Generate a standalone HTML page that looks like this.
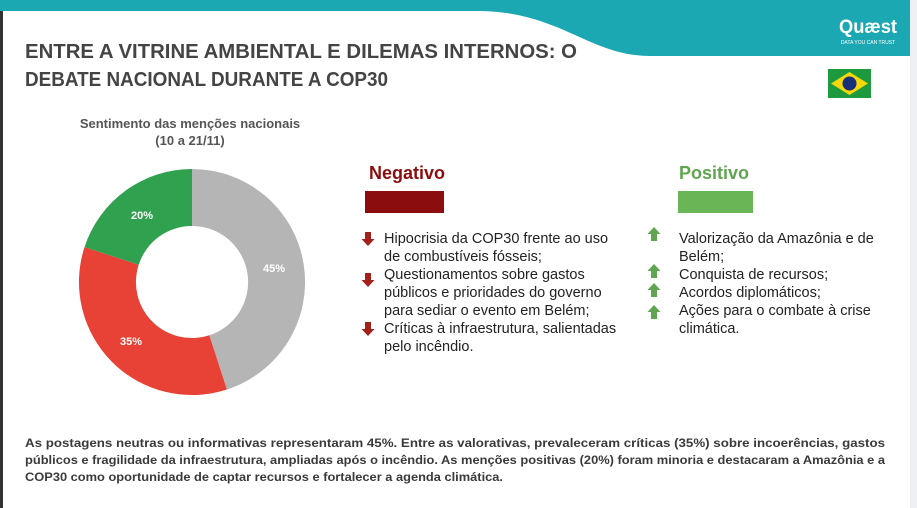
<!DOCTYPE html>
<html><head><meta charset="utf-8"><style>
html,body{margin:0;padding:0;background:#fff}
svg{display:block}
text{font-family:"Liberation Sans",Arial,sans-serif}
</style></head><body>
<svg width="917" height="508" viewBox="0 0 917 508" xmlns="http://www.w3.org/2000/svg">
<rect width="917" height="508" fill="#fff"/>
<rect x="0" y="0" width="3" height="508" fill="#333"/>
<rect x="910" y="0" width="7" height="508" fill="#eef0f3"/>
<path d="M0 0 H910 V56 H650 C590 56 560 12 480 11 H0 Z" fill="#1ba8b3"/>
<text x="868" y="33" font-size="19" font-weight="bold" fill="#fff" text-anchor="middle" textLength="58" lengthAdjust="spacingAndGlyphs">Quæst</text>
<text x="868" y="44" font-size="5" fill="#fff" text-anchor="middle">DATA YOU CAN TRUST</text>
<text x="25" y="58" font-size="20" font-weight="bold" fill="#444" textLength="552" lengthAdjust="spacingAndGlyphs">ENTRE A VITRINE AMBIENTAL E DILEMAS INTERNOS: O</text>
<text x="25" y="86" font-size="20" font-weight="bold" fill="#444" textLength="363" lengthAdjust="spacingAndGlyphs">DEBATE NACIONAL DURANTE A COP30</text>
<rect x="828" y="69" width="43" height="29" fill="#1e9a3e"/>
<polygon points="831,83.5 849.5,72 868,83.5 849.5,95" fill="#f5d70a"/>
<circle cx="849.5" cy="83.5" r="7" fill="#1a2f7a"/>
<text x="190" y="128" font-size="13" font-weight="bold" fill="#555" text-anchor="middle">Sentimento das menções nacionais</text>
<text x="190" y="145" font-size="13" font-weight="bold" fill="#555" text-anchor="middle">(10 a 21/11)</text>
<g transform="translate(192,282)">
<path d="M0 -113 A113 113 0 0 1 34.9 107.5 L17.3 53.3 A56 56 0 0 0 0 -56 Z" fill="#b5b5b5"/>
<path d="M34.9 107.5 A113 113 0 0 1 -107.5 -34.9 L-53.3 -17.3 A56 56 0 0 0 17.3 53.3 Z" fill="#e84236"/>
<path d="M-107.5 -34.9 A113 113 0 0 1 0 -113 L0 -56 A56 56 0 0 0 -53.3 -17.3 Z" fill="#30a14e"/>
</g>
<text x="142" y="219" font-size="11" font-weight="bold" fill="#fff" text-anchor="middle">20%</text>
<text x="274" y="272" font-size="11" font-weight="bold" fill="#fff" text-anchor="middle">45%</text>
<text x="131" y="345" font-size="11" font-weight="bold" fill="#fff" text-anchor="middle">35%</text>
<text x="369" y="179" font-size="18" font-weight="bold" fill="#8b0d0d">Negativo</text>
<rect x="365" y="191" width="79" height="22" fill="#8b0d0d"/>
<text x="679" y="179" font-size="18" font-weight="bold" fill="#5fa552">Positivo</text>
<rect x="678" y="191" width="75" height="22" fill="#6ab556"/>
<g font-size="14.5" fill="#222">
<text x="384" y="243">Hipocrisia da COP30 frente ao uso</text>
<text x="384" y="261">de combustíveis fósseis;</text>
<text x="384" y="279">Questionamentos sobre gastos</text>
<text x="384" y="297">públicos e prioridades do governo</text>
<text x="384" y="315">para sediar o evento em Belém;</text>
<text x="384" y="333">Críticas à infraestrutura, salientadas</text>
<text x="384" y="351">pelo incêndio.</text>
<text x="679" y="243">Valorização da Amazônia e de</text>
<text x="679" y="261">Belém;</text>
<text x="679" y="279">Conquista de recursos;</text>
<text x="679" y="297">Acordos diplomáticos;</text>
<text x="679" y="315">Ações para o combate à crise</text>
<text x="679" y="333">climática.</text>
</g>
<g fill="#a3201b">
<path d="M365 232 h6 v7 h3.5 l-6.5 7 l-6.5 -7 h3.5 Z"/>
<path d="M365 273 h6 v7 h3.5 l-6.5 7 l-6.5 -7 h3.5 Z"/>
<path d="M365 322 h6 v7 h3.5 l-6.5 7 l-6.5 -7 h3.5 Z"/>
</g>
<g fill="#5fa552">
<path d="M654 227 l6.5 7 h-3.5 v7 h-6 v-7 h-3.5 Z"/>
<path d="M654 264 l6.5 7 h-3.5 v7 h-6 v-7 h-3.5 Z"/>
<path d="M654 283 l6.5 7 h-3.5 v7 h-6 v-7 h-3.5 Z"/>
<path d="M654 305 l6.5 7 h-3.5 v7 h-6 v-7 h-3.5 Z"/>
</g>
<g font-size="12" font-weight="bold" fill="#3a3a3a">
<text x="25" y="447" textLength="860" lengthAdjust="spacingAndGlyphs">As postagens neutras ou informativas representaram 45%. Entre as valorativas, prevaleceram críticas (35%) sobre incoerências, gastos</text>
<text x="25" y="464" textLength="860" lengthAdjust="spacingAndGlyphs">públicos e fragilidade da infraestrutura, ampliadas após o incêndio. As menções positivas (20%) foram minoria e destacaram a Amazônia e a</text>
<text x="25" y="481" textLength="478" lengthAdjust="spacingAndGlyphs">COP30 como oportunidade de captar recursos e fortalecer a agenda climática.</text>
</g>
</svg>
</body></html>
